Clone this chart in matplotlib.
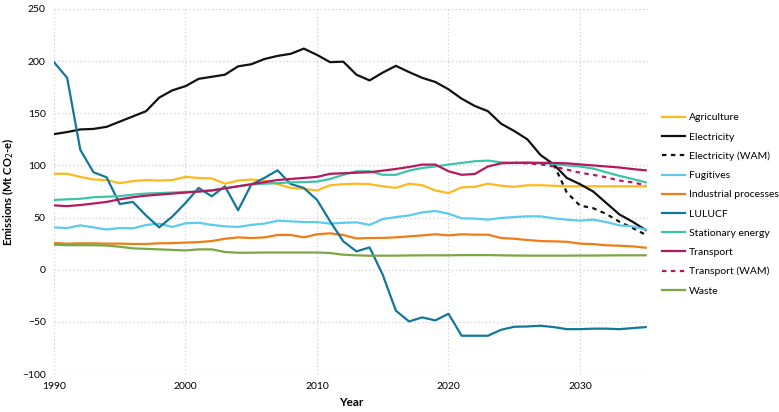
import numpy as np
import matplotlib.pyplot as plt

years = list(range(1990, 2036))

agriculture = [92, 92, 89, 86.5, 86, 83, 85, 86, 85.5, 86, 89, 88, 87.5, 82.5, 85.5, 86.5, 85.5, 82, 78.5, 77.5,
               76, 81, 82, 82.5, 82, 80, 78.5, 82.5, 81, 76, 73.5, 79, 79.5, 82.5, 80.5, 79.5, 81, 81, 80.5, 80,
               80, 80, 80, 80, 80, 80]
electricity = [130, 132, 134.5, 135, 137, 142, 147, 152, 165, 172, 176, 183, 185, 187, 195, 197, 202, 205, 207, 212,
               206, 199, 199.5, 187, 181.5, 189, 195.5, 189.5, 184, 180, 173, 164, 157, 152, 140, 133, 125, 110, 101, 88,
               82, 75, 64, 53, 46, 38]
elec_wam_years = list(range(2028, 2036))
electricity_wam = [101, 74, 61.5, 59, 53.5, 46, 40, 33.5]
fugitives = [40.6, 40, 42.5, 40.6, 38.5, 40, 39.7, 42.9, 44.2, 41, 44.5, 45, 43, 41.6, 41, 43, 44.2, 47, 46.4, 45.7,
             45.7, 44.2, 45, 45.4, 43, 48.6, 50.5, 52, 55, 56.3, 53.7, 49.3, 49, 48, 49.6, 50.5, 51.2, 51.2, 49.3, 48,
             47, 48, 45.7, 42.5, 41.6, 38.4]
industrial = [25.6, 25, 25.3, 25.3, 25, 25, 24.7, 24.7, 25.3, 25.5, 26, 26.5, 27.5, 29.7, 31, 30.4, 31, 33.3, 33.3, 31,
              34, 34.9, 33.3, 30, 30.4, 30.5, 31, 32, 32.9, 34, 32.9, 34, 33.6, 33.6, 30.4, 29.7, 28.5, 27.5, 27.2, 26.8,
              25, 24.6, 23.4, 23, 22.4, 21.1]
lulucf = [199, 184, 115, 93.5, 88.6, 63, 65, 52, 40.6, 51, 64, 78.4, 70.4, 80, 57, 81.6, 88, 95.3, 82.2, 78.4,
          67, 46.4, 27.2, 17.6, 21.4, -4.8, -39.3, -49.6, -45.7, -48.6, -42.2, -63.3, -63.3, -63.3, -57.6, -54.7,
          -54.4, -53.7, -55, -57, -57, -56.5, -56.5, -57, -56, -55]
stationary = [66.9, 67.5, 68, 69.5, 70, 70.5, 72, 73, 73.5, 74, 74.5, 75, 76, 78, 80, 81.6, 82.5, 83, 83.8, 84,
              84.5, 87, 91, 94.4, 94.4, 91, 91, 95, 97.6, 99, 100.8, 102.4, 104, 104.6, 103, 102.4, 102.8, 102, 101.4, 100,
              99, 97, 93.4, 90, 87, 83.8]
transport = [61.7, 61, 62, 63.5, 65, 67.5, 69.5, 71, 72, 73, 74, 75, 76, 78, 80, 82, 84, 86, 87, 88,
             89, 92, 92.5, 93, 93.5, 95, 96.6, 98.5, 100.8, 100.8, 94.4, 91, 91.8, 99, 102, 102.5, 102.5, 102.5, 102.4, 102,
             101, 100, 99, 98, 96.5, 95.3]
trans_wam_years = list(range(2025, 2036))
transport_wam = [102.5, 102, 101, 99, 96, 93, 91, 88.6, 85.5, 83.8, 81]
waste = [24, 23.5, 23.5, 23.5, 23.2, 22, 20.5, 20, 19.5, 19, 18.5, 19.5, 19.5, 17, 16.3, 16.3, 16.5, 16.5, 16.5, 16.5,
         16.5, 16, 14.4, 13.8, 13.4, 13.5, 13.5, 13.7, 13.8, 13.8, 13.8, 14, 14, 14, 13.8, 13.6, 13.5, 13.5, 13.5, 13.5,
         13.6, 13.6, 13.7, 13.8, 13.8, 13.8]

plt.rcParams['font.family'] = ['Lato', 'DejaVu Sans']

fig = plt.figure(figsize=(7.79, 4.12), dpi=100)
ax = fig.add_axes([0.0693, 0.0922, 0.763, 0.886])

lw = 1.6
ax.plot(years, agriculture, color='#FFB91F', lw=lw, label='Agriculture')
ax.plot(years, electricity, color='#111111', lw=lw, label='Electricity')
ax.plot(elec_wam_years, electricity_wam, color='#111111', lw=lw, ls=(0, (2, 2)), label='Electricity (WAM)')
ax.plot(years, fugitives, color='#5CCBEA', lw=lw, label='Fugitives')
ax.plot(years, industrial, color='#F07C16', lw=lw, label='Industrial processes')
ax.plot(years, lulucf, color='#137799', lw=lw, label='LULUCF')
ax.plot(years, stationary, color='#3CC4AA', lw=lw, label='Stationary energy')
ax.plot(years, transport, color='#B3195F', lw=lw, label='Transport')
ax.plot(trans_wam_years, transport_wam, color='#B3195F', lw=lw, ls=(0, (2, 2)), label='Transport (WAM)')
ax.plot(years, waste, color='#7BA646', lw=lw, label='Waste')

ax.set_xlim(1990, 2035.2)
ax.set_ylim(-100, 250)
ax.set_xticks([1990, 2000, 2010, 2020, 2030])
ax.set_yticks(range(-100, 251, 50))
ax.tick_params(length=0, labelsize=7.5, pad=6)
ax.grid(True, color='#D0D0D0', ls=(0, (1, 2)), lw=0.9)
for s in ax.spines.values():
    s.set_visible(False)

ax.set_xlabel('Year', fontsize=8.5, fontweight='bold', labelpad=4)
ax.set_ylabel('Emissions (Mt CO$_2$-e)', fontsize=8, fontweight='bold', labelpad=4)

fig.legend(loc='center left', bbox_to_anchor=(0.838, 0.504), frameon=False, fontsize=7.5,
           handlelength=2.2, labelspacing=0.95, handletextpad=0.35)

plt.savefig('out.png', dpi=100)
